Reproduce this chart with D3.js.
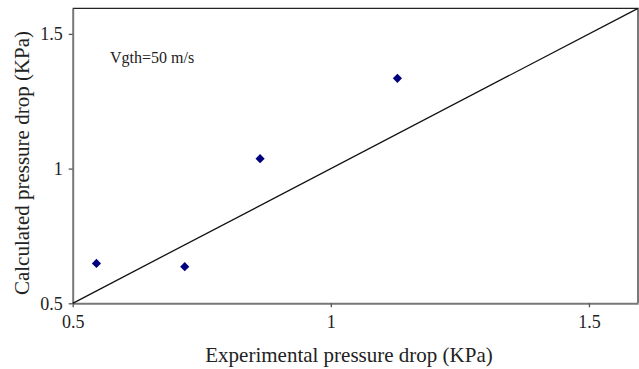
<!DOCTYPE html>
<html>
<head>
<meta charset="utf-8">
<title>Pressure drop</title>
<script src="https://cdn.jsdelivr.net/npm/d3@7"></script>
<style>
	body { margin: 0; background: white; }
	text { font-family: "Liberation Serif", "Times New Roman", serif; fill: #222; }
	.tick text { font-size: 18px; }
	.axis-title { font-size: 21px; }
</style>
</head>
<body>
<svg id="chart" width="639" height="369"></svg>
<script>
	// measured points
	var experimental = [0.546, 0.717, 0.863, 1.129];
	var calculated = [0.648, 0.636, 1.037, 1.335];
	var xTicks = [0.5, 1, 1.5];
	var yTicks = [0.5, 1, 1.5];
	var domainMin = 0.5, domainMax = 1.595;

	var plotLeft = 72.7, plotRight = 638, plotTop = 8.3, plotBottom = 303.3;

	var svg = d3.select("#chart");

	var x = d3.scaleLinear().domain([domainMin, domainMax]).range([plotLeft, plotRight]);
	var y = d3.scaleLinear().domain([domainMin, domainMax]).range([plotBottom, plotTop]);

	// frame top and right
	svg.append("path")
		.attr("d", `M${plotLeft},${plotTop}H${plotRight}V${plotBottom}`)
		.attr("fill", "none")
		.attr("stroke", "#222")
		.attr("stroke-width", 1.2);

	var fmt = d => d === 1 ? "1" : d3.format(".1f")(d);

	var xAxis = svg.append("g")
		.attr("transform", `translate(0,${plotBottom})`)
		.call(d3.axisBottom(x).tickValues(xTicks).tickFormat(fmt).tickSize(4).tickPadding(8).tickSizeOuter(0));
	var yAxis = svg.append("g")
		.attr("transform", `translate(${plotLeft},0)`)
		.call(d3.axisLeft(y).tickValues(yTicks).tickFormat(fmt).tickSize(4).tickPadding(6).tickSizeOuter(0));

	[xAxis, yAxis].forEach(g => {
		g.select(".domain").attr("stroke", "#777").attr("stroke-width", 2);
		g.selectAll(".tick line").attr("stroke", "#555").attr("stroke-width", 1.3);
		g.selectAll(".tick text").attr("fill", "#222").attr("font-family", null).attr("font-size", null);
	});

	// 1:1 line
	svg.append("line")
		.attr("x1", x(domainMin)).attr("y1", y(domainMin))
		.attr("x2", x(domainMax)).attr("y2", y(domainMax))
		.attr("stroke", "#111")
		.attr("stroke-width", 1.3);

	var pts = experimental.map((e, i) => ({ e: e, c: calculated[i] }));
	svg.selectAll("path.pt")
		.data(pts).enter().append("path")
		.attr("class", "pt")
		.attr("d", d3.symbol(d3.symbolSquare, 42))
		.attr("transform", d => `translate(${x(d.e)},${y(d.c)}) rotate(45)`)
		.attr("fill", "#00007f");

	svg.append("text")
		.attr("x", 110).attr("y", 63)
		.attr("font-size", 16)
		.text("Vgth=50 m/s");

	svg.append("text")
		.attr("class", "axis-title")
		.attr("x", 349).attr("y", 362)
		.attr("text-anchor", "middle")
		.text("Experimental pressure drop (KPa)");

	svg.append("text")
		.attr("class", "axis-title")
		.attr("transform", "translate(29,163) rotate(-90)")
		.attr("text-anchor", "middle")
		.text("Calculated pressure drop (KPa)");
</script>
</body>
</html>
